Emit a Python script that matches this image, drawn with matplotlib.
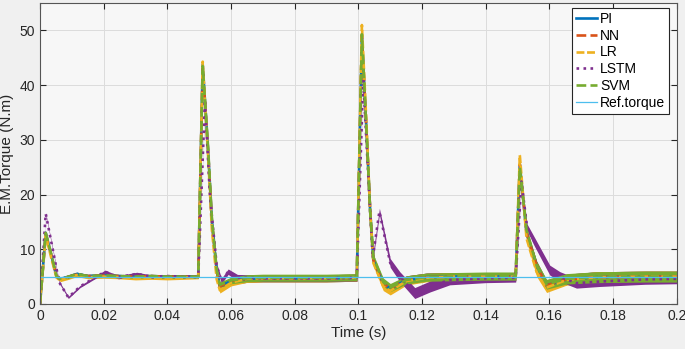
import matplotlib
matplotlib.use("Agg")
import matplotlib.pyplot as plt

plt.rcParams['font.family'] = ['Liberation Sans', 'DejaVu Sans']

# key points (time in s, torque in N.m)
t_common = [0, 0.0018, 0.0035, 0.0052, 0.0065, 0.009, 0.0116, 0.015, 0.02, 0.025,
            0.03, 0.035, 0.04, 0.045, 0.0497, 0.0511, 0.0528, 0.054, 0.0555, 0.0565,
            0.060, 0.065, 0.07, 0.08, 0.09, 0.0995, 0.1011, 0.1026, 0.1037, 0.1047,
            0.1078, 0.110, 0.1151, 0.1214, 0.13, 0.14, 0.1494, 0.1507, 0.1528, 0.156,
            0.1591, 0.1654, 0.175, 0.19, 0.2]

pi_torque = [0, 13.0, 9.0, 5.0, 4.6, 5.0, 5.5, 5.1, 5.2, 5.1,
             5.0, 5.1, 5.0, 5.0, 5.0, 43.8, 28.0, 15.0, 6.0, 3.2,
             4.2, 4.6, 4.7, 4.7, 4.7, 4.8, 49.0, 31.0, 17.0, 8.0,
             3.7, 2.8, 4.4, 4.9, 5.0, 5.0, 5.0, 25.5, 13.0, 7.0,
             3.4, 4.5, 4.9, 5.0, 5.0]
nn_torque = [0, 12.8, 9.0, 5.0, 4.6, 5.0, 5.4, 5.1, 5.2, 5.1,
             5.0, 5.1, 5.0, 5.0, 5.0, 43.5, 28.0, 15.0, 6.0, 3.2,
             4.2, 4.6, 4.7, 4.7, 4.7, 4.8, 49.0, 31.0, 17.0, 8.0,
             3.7, 2.8, 4.4, 4.9, 5.0, 5.0, 5.0, 25.5, 13.0, 7.0,
             3.4, 4.5, 4.9, 5.0, 5.0]
lr_torque = [0, 12.5, 8.5, 4.8, 4.4, 4.8, 5.3, 4.9, 5.0, 4.9,
             4.7, 4.8, 4.7, 4.8, 4.9, 44.3, 27.0, 13.5, 4.5, 2.5,
             3.9, 4.6, 4.7, 4.7, 4.7, 4.8, 51.0, 32.0, 17.0, 7.5,
             3.2, 2.4, 4.2, 4.8, 5.0, 5.0, 5.0, 27.2, 12.0, 5.8,
             3.0, 4.4, 4.9, 5.0, 5.0]
svm_torque = [0, 13.0, 9.2, 5.0, 4.6, 5.0, 5.5, 5.1, 5.2, 5.1,
              5.0, 5.1, 5.0, 5.0, 5.0, 43.5, 28.5, 15.5, 6.2, 3.5,
              4.3, 4.7, 4.8, 4.8, 4.8, 4.9, 49.3, 31.0, 17.0, 8.5,
              4.0, 3.0, 4.4, 4.9, 5.0, 5.1, 5.1, 25.0, 13.5, 7.0,
              3.6, 4.6, 4.9, 5.0, 5.0]
band_common = [0, 0.2, 0.2, 0.3, 0.3, 0.3, 0.3, 0.3, 0.3, 0.3,
               0.3, 0.3, 0.3, 0.3, 0.3, 0.3, 0.3, 0.3, 0.4, 0.5,
               0.6, 0.65, 0.65, 0.65, 0.65, 0.65, 0.3, 0.3, 0.4, 0.6,
               0.75, 0.75, 0.75, 0.75, 0.75, 0.75, 0.75, 0.4, 0.6, 0.8,
               0.9, 0.95, 1.0, 1.0, 1.0]

t_lstm = [0, 0.0018, 0.004, 0.006, 0.0089, 0.0126, 0.0178, 0.0204, 0.0246, 0.0304,
          0.035, 0.04, 0.045, 0.0497, 0.0518, 0.0534, 0.0555, 0.057, 0.0591, 0.062,
          0.07, 0.08, 0.09, 0.0995, 0.1015, 0.1045, 0.1066, 0.110, 0.113, 0.1177,
          0.1225, 0.1287, 0.14, 0.1494, 0.1512, 0.153, 0.155, 0.1601, 0.1633, 0.1685,
          0.1758, 0.19, 0.2]
lstm_torque = [0, 16.5, 10.0, 4.0, 1.2, 3.2, 5.0, 5.9, 4.9, 5.5,
               5.0, 5.1, 5.0, 5.0, 37.3, 19.6, 7.0, 4.2, 5.9, 4.8,
               4.7, 4.7, 4.7, 4.8, 41.0, 8.4, 16.9, 7.5, 5.0, 2.0,
               3.2, 4.4, 4.7, 4.8, 22.4, 14.0, 11.7, 6.2, 5.0, 3.8,
               4.1, 4.5, 4.6]
band_lstm = [0, 0.2, 0.2, 0.2, 0.2, 0.2, 0.2, 0.3, 0.3, 0.3,
             0.3, 0.3, 0.3, 0.3, 0.3, 0.3, 0.4, 0.5, 0.5, 0.6,
             0.6, 0.6, 0.6, 0.6, 0.3, 0.6, 0.6, 0.8, 0.9, 1.0,
             1.0, 0.9, 0.8, 0.8, 0.4, 0.6, 0.8, 0.9, 0.9, 0.9,
             0.9, 0.9, 0.9]

t_ref = [0, 0.2]
ref_torque = [5, 5]

series = [
    ("PI", t_common, pi_torque, band_common, "#0072BD", "-"),
    ("NN", t_common, nn_torque, band_common, "#D95319", "--"),
    ("LR", t_common, lr_torque, band_common, "#EDB120", (0, (3, 1))),
    ("LSTM", t_lstm, lstm_torque, band_lstm, "#7E2F8E", ":"),
    ("SVM", t_common, svm_torque, band_common, "#77AC30", "--"),
]

fig = plt.figure(figsize=(6.85, 3.49), dpi=100, facecolor="#f0f0f0")
ax = fig.add_axes([0.0584, 0.129, 0.9296, 0.862])
ax.set_facecolor("#f7f7f7")

for name, t, y, band, color, ls in series:
    lo = [v - b for v, b in zip(y, band)]
    hi = [v + b for v, b in zip(y, band)]
    ax.fill_between(t, lo, hi, color=color, lw=0)
    ax.plot(t, y, color=color, linestyle=ls, lw=1.9, label=name)
ax.plot(t_ref, ref_torque, color="#4DBEEE", lw=0.9, label="Ref.torque")

ax.set_xlim(0, 0.2)
ax.set_ylim(0, 55)
ax.set_xticks([0, 0.02, 0.04, 0.06, 0.08, 0.1, 0.12, 0.14, 0.16, 0.18, 0.2])
ax.set_xticklabels(["0", "0.02", "0.04", "0.06", "0.08", "0.1", "0.12", "0.14",
                    "0.16", "0.18", "0.2"])
ax.set_yticks([0, 10, 20, 30, 40, 50])
ax.tick_params(direction="in", top=True, right=True, length=4, labelsize=10,
               colors="#262626")
ax.grid(True, color="#dcdcdc", lw=0.7)
ax.set_axisbelow(True)
for s in ax.spines.values():
    s.set_color("#555555")
    s.set_linewidth(0.8)

ax.set_xlabel("Time (s)", fontsize=11, color="#262626", labelpad=2)
ax.set_ylabel("E.M.Torque (N.m)", fontsize=11, color="#262626", labelpad=4)

leg = ax.legend(loc="upper right", bbox_to_anchor=(0.988, 0.985), borderaxespad=0,
                fontsize=10, handlelength=1.5, handletextpad=0.2, labelspacing=0.2,
                borderpad=0.3, fancybox=False, framealpha=1, edgecolor="#262626")
leg.get_frame().set_linewidth(0.8)

fig.savefig("out.png", dpi=100, facecolor=fig.get_facecolor())
